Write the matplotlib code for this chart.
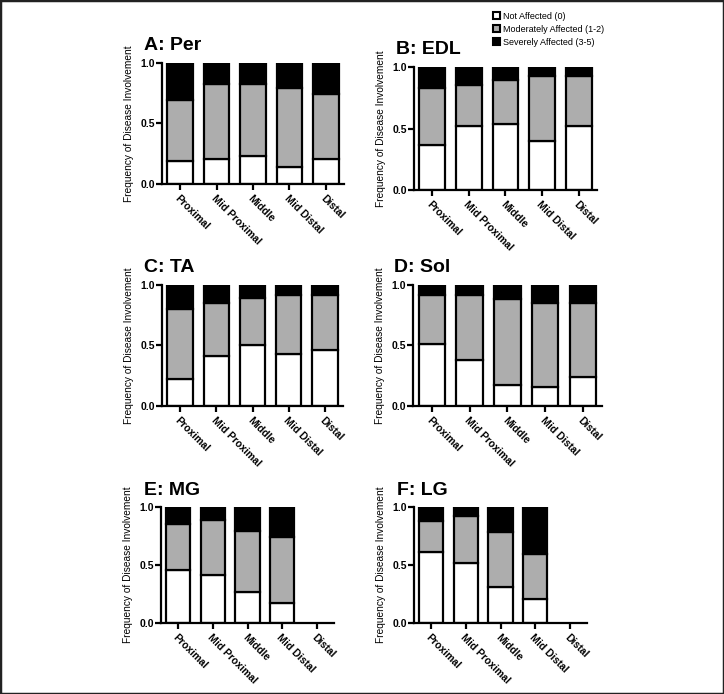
import matplotlib
matplotlib.use("Agg")
import matplotlib.pyplot as plt
from matplotlib.patches import Rectangle, Patch

plt.rcParams["font.family"] = ["Liberation Sans", "DejaVu Sans"]

# =========================
# Data (fraction of muscles per region)
# =========================
regioes = ["Proximal", "Mid Proximal", "Middle", "Mid Distal", "Distal"]
titulos = ["A: Per", "B: EDL", "C: TA", "D: Sol", "E: MG", "F: LG"]

# not affected (0)
nao_afetado = [
    [0.19, 0.21, 0.235, 0.14, 0.21],
    [0.365, 0.52, 0.54, 0.40, 0.52],
    [0.22, 0.41, 0.50, 0.43, 0.46],
    [0.51, 0.38, 0.17, 0.16, 0.24],
    [0.46, 0.41, 0.265, 0.17, 0.0],
    [0.61, 0.52, 0.31, 0.21, 0.0],
]
# moderately affected (1-2)
moderado = [
    [0.50, 0.62, 0.595, 0.65, 0.535],
    [0.465, 0.337, 0.357, 0.53, 0.404],
    [0.58, 0.44, 0.39, 0.49, 0.46],
    [0.405, 0.54, 0.71, 0.695, 0.615],
    [0.39, 0.475, 0.525, 0.57, 0.0],
    [0.273, 0.406, 0.476, 0.384, 0.0],
]
# severely affected (3-5)
severo = [
    [0.31, 0.17, 0.17, 0.21, 0.255],
    [0.17, 0.143, 0.103, 0.07, 0.076],
    [0.20, 0.15, 0.11, 0.08, 0.08],
    [0.085, 0.08, 0.12, 0.145, 0.145],
    [0.15, 0.115, 0.21, 0.26, 0.0],
    [0.117, 0.074, 0.214, 0.406, 0.0],
]

legendas = ["Not Affected (0)", "Moderately Affected (1-2)", "Severely Affected (3-5)"]
cores = ["white", "#adadad", "black"]

posicoes = [
    [0.2238, 0.7349, 0.2514, 0.1744],
    [0.5718, 0.7262, 0.2528, 0.1772],
    [0.2238, 0.4150, 0.2500, 0.1744],
    [0.5704, 0.4150, 0.2610, 0.1744],
    [0.2224, 0.1023, 0.2390, 0.1671],
    [0.5718, 0.1023, 0.2390, 0.1671],
]

fig = plt.figure(figsize=(7.24, 6.94), dpi=100)
fig.patches.append(Rectangle((0, 0), 1, 1, transform=fig.transFigure,
                             fill=False, edgecolor="#222222", linewidth=2.5))

lw = 1.6
x = list(range(len(regioes)))

for i, titulo in enumerate(titulos):
    ax = fig.add_axes(posicoes[i])
    base = [0.0] * len(regioes)
    for serie, cor in zip([nao_afetado[i], moderado[i], severo[i]], cores):
        vis = [v > 0 for v in serie]
        ax.bar([xx for xx, ok in zip(x, vis) if ok],
               [h for h, ok in zip(serie, vis) if ok],
               bottom=[b for b, ok in zip(base, vis) if ok],
               width=0.7, color=cor, edgecolor="black", linewidth=lw)
        base = [b + v for b, v in zip(base, serie)]

    ax.set_xlim(-0.5, 4.5)
    ax.set_ylim(0, 1.0)
    ax.set_yticks([0.0, 0.5, 1.0])
    ax.set_yticklabels(["0.0", "0.5", "1.0"], fontsize=7.5, fontweight="bold")
    ax.set_xticks(x)
    ax.set_xticklabels(regioes, rotation=-45, ha="left", rotation_mode="anchor",
                       fontsize=7.5, fontweight="bold")
    ax.spines["top"].set_visible(False)
    ax.spines["right"].set_visible(False)
    ax.spines["left"].set_linewidth(lw)
    ax.spines["bottom"].set_linewidth(lw)
    ax.tick_params(axis="both", direction="out", length=4, width=lw, pad=1)
    ax.tick_params(axis="x", pad=3)
    ax.set_ylabel("Frequency of Disease Involvement", fontsize=7.3, labelpad=5)
    ax.text(-0.1, 1.07, titulo, transform=ax.transAxes, fontsize=14,
            fontweight="bold", ha="left", va="bottom")

handles = [Patch(facecolor=c, edgecolor="black", linewidth=1.5) for c in cores]
fig.legend(handles, legendas, loc="upper left", bbox_to_anchor=(0.672, 0.992),
           frameon=False, fontsize=6.5, handlelength=0.8, handleheight=0.8,
           handletextpad=0.3, labelspacing=0.45, borderpad=0.2)

fig.savefig("out.png", dpi=100)
